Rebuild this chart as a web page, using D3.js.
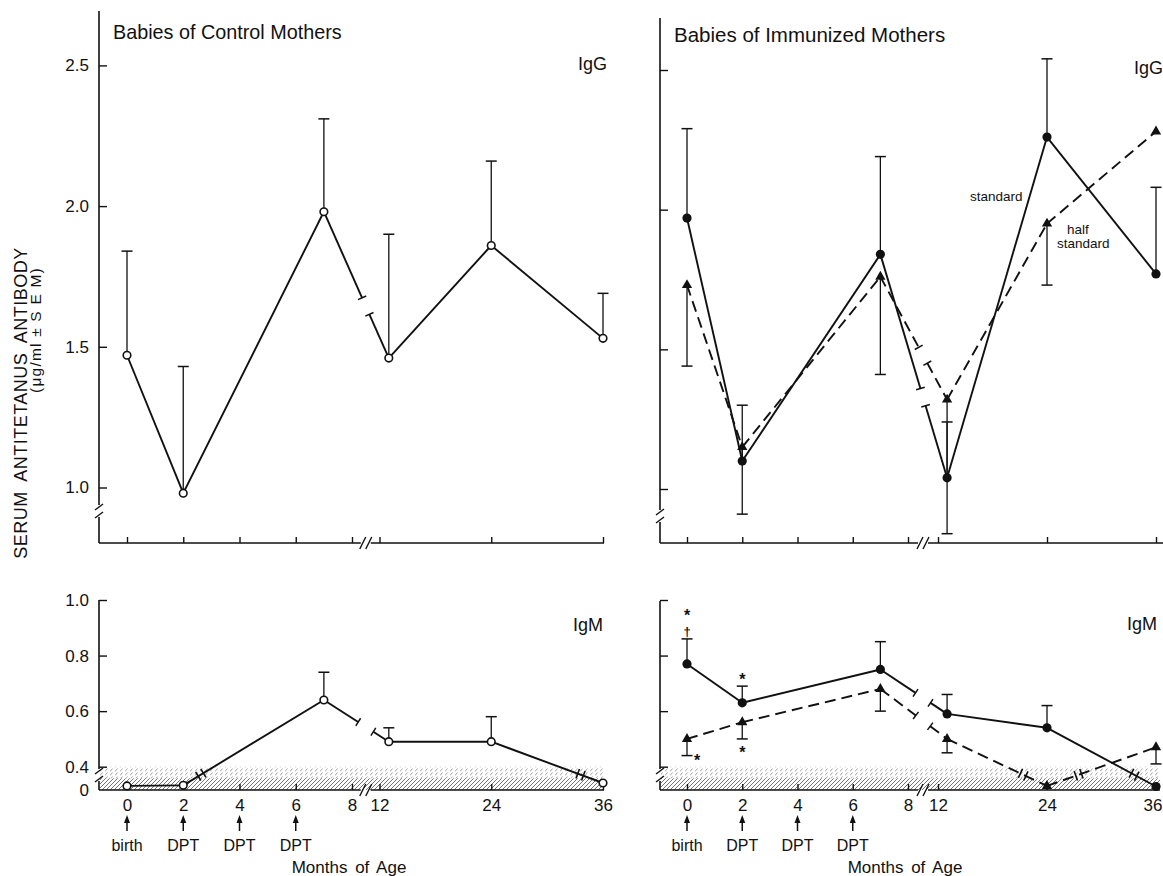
<!DOCTYPE html>
<html>
<head>
<meta charset="utf-8">
<script src="https://cdnjs.cloudflare.com/ajax/libs/d3/7.8.5/d3.min.js"></script>
<style>
  body { margin: 0; background: #fff; }
  text { font-family: "Liberation Sans", Arial, sans-serif; fill: #111; }
</style>
</head>
<body>
<svg id="chart" width="1163" height="876"></svg>
<script>
// sampling ages (months) and axis ticks
const months = [0, 2, 7, 13, 24, 36];
const axisMonths = [0, 2, 4, 6, 8, 12, 24, 36];
const shotMonths = [0, 2, 4, 6];
const shotLabels = ['birth', 'DPT', 'DPT', 'DPT'];
const igGTicks = [1.0, 1.5, 2.0, 2.5];
const igMTicks = [0.4, 0.6, 0.8, 1.0];
const igMLabels = [0, 0.4, 0.6, 0.8, 1.0];

// IgG, babies of control mothers (mean, mean + SEM)
const controlIgG = [1.47, 0.98, 1.98, 1.46, 1.86, 1.53];
const controlIgGHi = [1.84, 1.43, 2.31, 1.90, 2.16, 1.69];
// IgG, babies of immunized mothers
const stdIgG = [1.97, 1.10, 1.84, 1.04, 2.26, 1.77];
const stdIgGHi = [2.29, 1.30, 2.19, 1.24, 2.54, 2.08];
const halfIgG = [1.73, 1.15, 1.76, 1.32, 1.95, 2.28];
const halfIgGLo = [1.44, 0.91, 1.41, 0.84, 1.73, null];

// IgM, babies of control mothers
const controlIgM = [0.07, 0.08, 0.64, 0.49, 0.49, 0.12];
const controlIgMHi = [null, null, 0.74, 0.54, 0.58, null];
// IgM, babies of immunized mothers
const stdIgM = [0.77, 0.63, 0.75, 0.59, 0.54, 0.06];
const stdIgMHi = [0.86, 0.69, 0.85, 0.66, 0.62, null];
const halfIgM = [0.50, 0.56, 0.68, 0.50, 0.07, 0.47];
const halfIgMLo = [0.44, 0.50, 0.60, 0.45, null, 0.41];

// significance marks (read top to bottom)
const stdIgMMarks = [['*', '\u2020'], ['*'], [], [], [], []];
const halfIgMMarks = ['*', '*', null, null, null, null];

const ink = '#111';
const svg = d3.select('#chart');

const defs = svg.append('defs');
defs.append('pattern').attr('id', 'dots').attr('width', 5).attr('height', 4)
  .attr('patternUnits', 'userSpaceOnUse')
  .append('path').attr('d', 'M0,3.5 L2.5,0.5').attr('stroke', '#999').attr('stroke-width', 0.9);
defs.append('pattern').attr('id', 'hatch').attr('width', 4).attr('height', 4)
  .attr('patternUnits', 'userSpaceOnUse')
  .append('path').attr('d', 'M0,4 L4,0').attr('stroke', '#666').attr('stroke-width', 0.9);

const xLeft = d3.scaleLinear().domain([0, 8, 12, 36]).range([127, 352, 379.5, 603]);
const xRight = d3.scaleLinear().domain([0, 8, 12, 36]).range([687, 908, 938, 1156]);
const yTopLeft = d3.scaleLinear().domain([1.0, 2.5]).range([487.5, 65.4]);
const yTopRight = d3.scaleLinear().domain([1.0, 2.5]).range([489, 70]);
const yBottom = d3.scaleLinear().domain([0, 0.4, 1.0]).range([790, 766.7, 600]);

const W = 1163;
const line = d3.line();
const fmt = d => d === 0 ? '0' : d.toFixed(1);

function stroke(sel, w) {
  return sel.attr('stroke', ink).attr('stroke-width', w).attr('fill', 'none');
}

// axis line with a "//" break
function hAxis(g, y, x0, x1, bx) {
  stroke(g.append('path').attr('d', line([[x0, y], [bx - 5, y]])), 1.6);
  stroke(g.append('path').attr('d', line([[bx + 5, y], [x1, y]])), 1.6);
  [bx - 3, bx + 3].forEach(s =>
    stroke(g.append('path').attr('d', line([[s - 3, y + 6], [s + 3, y - 6]])), 1.4));
}
function vAxis(g, x, y0, y1, by) {
  stroke(g.append('path').attr('d', line([[x, y0], [x, by - 6]])), 1.6);
  stroke(g.append('path').attr('d', line([[x, by + 6], [x, y1]])), 1.6);
  [by - 4, by + 4].forEach(s =>
    stroke(g.append('path').attr('d', line([[x - 4, s + 3], [x + 4, s - 3]])), 1.4));
}

function yTicks(g, x0, y, ticks, labels) {
  g.append('g').attr('transform', `translate(${x0},0)`)
    .call(d3.axisRight(y).tickValues(ticks).tickSize(8).tickFormat(''))
    .call(a => a.select('.domain').remove())
    .selectAll('line').attr('stroke', ink).attr('stroke-width', 1.4);
  if (labels) {
    g.append('g').attr('transform', `translate(${x0},0)`)
      .call(d3.axisLeft(y).tickValues(labels).tickSize(0).tickPadding(10).tickFormat(fmt))
      .call(a => a.select('.domain').remove())
      .attr('font-size', 17).attr('font-family', null);
  }
}

function xTicks(g, yPos, x, withLabels) {
  g.append('g').attr('transform', `translate(0,${yPos})`)
    .call(d3.axisTop(x).tickValues(axisMonths).tickSize(6).tickFormat(''))
    .call(a => a.select('.domain').remove())
    .selectAll('line').attr('stroke', ink).attr('stroke-width', 1.4);
  if (!withLabels) return;
  g.append('g').attr('transform', `translate(0,${yPos})`)
    .call(d3.axisBottom(x).tickValues(axisMonths).tickSize(0).tickPadding(9))
    .call(a => a.select('.domain').remove())
    .attr('font-size', 17).attr('font-family', null)
    .selectAll('.tick text')
    .filter(d => x(d) + 11 > W)
    .attr('text-anchor', 'end').attr('x', d => W - 1 - x(d));
  shotMonths.forEach((m, i) => {
    const cx = x(m);
    stroke(g.append('path').attr('d', line([[cx, 831], [cx, 819]])), 1.5);
    g.append('path').attr('d', `M${cx - 3},${823} L${cx},${815} L${cx + 3},${823} Z`).attr('fill', ink);
    g.append('text').attr('x', cx).attr('y', 851).attr('text-anchor', 'middle')
      .attr('font-size', 16).text(shotLabels[i]);
  });
  g.append('text').attr('x', x(8) - 3).attr('y', 873).attr('text-anchor', 'middle')
    .attr('font-size', 17).attr('word-spacing', 3).text('Months of Age');
}

// series line: gap at the axis break, marks where it enters the band
function seriesLine(g, x, y, vals, dashed, bandTop) {
  const bx = x(10);
  for (let i = 0; i < vals.length - 1; i++) {
    const p = [x(months[i]), y(vals[i])], q = [x(months[i + 1]), y(vals[i + 1])];
    const dx = q[0] - p[0], dy = q[1] - p[1], len = Math.hypot(dx, dy);
    const ux = dx / len, uy = dy / len;
    const segs = [];
    if (months[i] < 10 && months[i + 1] > 10) {
      const t = (bx - p[0]) / dx;
      const c = [p[0] + t * dx, p[1] + t * dy];
      const a = [c[0] - ux * 9, c[1] - uy * 9], b = [c[0] + ux * 9, c[1] + uy * 9];
      segs.push([p, a], [b, q]);
      [a, b].forEach(e => stroke(g.append('path')
        .attr('d', line([[e[0] - uy * 4.5, e[1] + ux * 4.5], [e[0] + uy * 4.5, e[1] - ux * 4.5]])), 1.5));
    } else {
      segs.push([p, q]);
    }
    segs.forEach(s => stroke(g.append('path').attr('d', line(s)), 1.9)
      .attr('stroke-dasharray', dashed ? '11,6' : null));
    if (bandTop !== undefined && (vals[i] > 0.4) !== (vals[i + 1] > 0.4)) {
      const yc = bandTop + 8;
      const t = (yc - p[1]) / dy;
      const c = [p[0] + t * dx, p[1] + t * dy];
      [-3, 3].forEach(o => {
        const e = [c[0] + ux * o, c[1] + uy * o];
        stroke(g.append('path')
          .attr('d', line([[e[0] - uy * 5, e[1] + ux * 5], [e[0] + uy * 5, e[1] - ux * 5]])), 1.6);
      });
    }
  }
}

function errorBars(g, x, y, vals, ends) {
  vals.forEach((v, i) => {
    if (ends[i] == null) return;
    const cx = x(months[i]);
    stroke(g.append('path').attr('d', line([[cx, y(v)], [cx, y(ends[i])]])), 1.3);
    stroke(g.append('path').attr('d', line([[cx - 5.5, y(ends[i])], [cx + 5.5, y(ends[i])]])), 1.5);
  });
}

function markers(g, x, y, vals, kind) {
  vals.forEach((v, i) => {
    const cx = x(months[i]), cy = y(v);
    if (kind === 'open') {
      g.append('circle').attr('cx', cx).attr('cy', cy).attr('r', 3.8)
        .attr('fill', '#fff').attr('stroke', ink).attr('stroke-width', 1.6);
    } else if (kind === 'filled') {
      g.append('circle').attr('cx', cx).attr('cy', cy).attr('r', 4.6).attr('fill', ink);
    } else {
      g.append('path').attr('d', d3.symbol(d3.symbolTriangle, 46)())
        .attr('transform', `translate(${cx},${cy})`).attr('fill', ink);
    }
  });
}

function band(g, x0, x1) {
  const yt = yBottom(0.4), yb = yBottom(0);
  g.append('rect').attr('x', x0).attr('y', yt).attr('width', x1 - x0).attr('height', (yb - yt) / 2)
    .attr('fill', 'url(#dots)');
  g.append('rect').attr('x', x0).attr('y', (yt + yb) / 2).attr('width', x1 - x0).attr('height', (yb - yt) / 2)
    .attr('fill', 'url(#hatch)');
}

// ---------- top left: IgG, control mothers ----------
const tl = svg.append('g');
vAxis(tl, 99, 11, 543, 511);
hAxis(tl, 543, 99, 604, xLeft(10));
yTicks(tl, 99, yTopLeft, igGTicks, igGTicks);
xTicks(tl, 543, xLeft, false);
seriesLine(tl, xLeft, yTopLeft, controlIgG, false);
errorBars(tl, xLeft, yTopLeft, controlIgG, controlIgGHi);
markers(tl, xLeft, yTopLeft, controlIgG, 'open');
tl.append('text').attr('x', 113).attr('y', 39).attr('font-size', 19.8).text('Babies of Control Mothers');
tl.append('text').attr('x', 607).attr('y', 70).attr('text-anchor', 'end').attr('font-size', 18).text('IgG');

// ---------- top right: IgG, immunized mothers ----------
const tr = svg.append('g');
vAxis(tr, 660, 18, 543, 516);
hAxis(tr, 543, 660, 1163, xRight(10));
yTicks(tr, 660, yTopRight, igGTicks, null);
xTicks(tr, 543, xRight, false);
seriesLine(tr, xRight, yTopRight, halfIgG, true);
seriesLine(tr, xRight, yTopRight, stdIgG, false);
errorBars(tr, xRight, yTopRight, stdIgG, stdIgGHi);
errorBars(tr, xRight, yTopRight, halfIgG, halfIgGLo);
markers(tr, xRight, yTopRight, halfIgG, 'tri');
markers(tr, xRight, yTopRight, stdIgG, 'filled');
tr.append('text').attr('x', 674).attr('y', 42).attr('font-size', 20.5).text('Babies of Immunized Mothers');
tr.append('text').attr('x', 1163).attr('y', 74).attr('text-anchor', 'end').attr('font-size', 18).text('IgG');
tr.append('text').attr('x', 970).attr('y', 201).attr('font-size', 13.5).text('standard');
tr.append('text').attr('x', 1067).attr('y', 234).attr('font-size', 13.5).text('half');
tr.append('text').attr('x', 1057).attr('y', 248).attr('font-size', 13.5).text('standard');

// ---------- bottom left: IgM, control mothers ----------
const bl = svg.append('g');
band(bl, 100, 604);
vAxis(bl, 99, 600, 790, 775);
hAxis(bl, 790, 99, 604, xLeft(10));
yTicks(bl, 99, yBottom, igMTicks, igMLabels);
xTicks(bl, 790, xLeft, true);
seriesLine(bl, xLeft, yBottom, controlIgM, false, yBottom(0.4));
errorBars(bl, xLeft, yBottom, controlIgM, controlIgMHi);
markers(bl, xLeft, yBottom, controlIgM, 'open');
bl.append('text').attr('x', 603).attr('y', 631).attr('text-anchor', 'end').attr('font-size', 18).text('IgM');

// ---------- bottom right: IgM, immunized mothers ----------
const br = svg.append('g');
band(br, 661, 1160);
vAxis(br, 660, 601, 790, 775);
hAxis(br, 790, 660, 1160, xRight(10));
yTicks(br, 660, yBottom, igMTicks, null);
xTicks(br, 790, xRight, true);
seriesLine(br, xRight, yBottom, halfIgM, true, yBottom(0.4));
seriesLine(br, xRight, yBottom, stdIgM, false, yBottom(0.4));
errorBars(br, xRight, yBottom, stdIgM, stdIgMHi);
errorBars(br, xRight, yBottom, halfIgM, halfIgMLo);
markers(br, xRight, yBottom, halfIgM, 'tri');
markers(br, xRight, yBottom, stdIgM, 'filled');
br.append('text').attr('x', 1157).attr('y', 630).attr('text-anchor', 'end').attr('font-size', 18).text('IgM');

// significance marks stacked above the standard error bars (bottom mark first)
stdIgMMarks.forEach((marks, i) => {
  const cx = xRight(months[i]);
  const cap = yBottom(stdIgMHi[i]);
  let baseline = null;
  marks.slice().reverse().forEach(m => {
    baseline = baseline === null ? cap - (m === '*' ? 1 : 3) : baseline - 15;
    br.append('text').attr('x', cx).attr('y', baseline).attr('text-anchor', 'middle')
      .attr('font-weight', 'bold').attr('font-size', m === '*' ? 16 : 13).text(m);
  });
});
halfIgMMarks.forEach((m, i) => {
  if (!m) return;
  const side = i === 0;
  br.append('text').attr('x', xRight(months[i]) + (side ? 10 : 0))
    .attr('y', yBottom(halfIgMLo[i]) + (side ? 10 : 19))
    .attr('text-anchor', 'middle').attr('font-size', 16).attr('font-weight', 'bold').text(m);
});

// shared y title
const yTitle = svg.append('g');
yTitle.append('text').attr('transform', 'translate(27,403) rotate(-90)')
  .attr('text-anchor', 'middle').attr('font-size', 18).attr('letter-spacing', 0.5)
  .attr('word-spacing', 5).text('SERUM ANTITETANUS ANTIBODY');
yTitle.append('text').attr('transform', 'translate(41,330) rotate(-90)')
  .attr('text-anchor', 'middle').attr('font-size', 15.5).attr('letter-spacing', 1.2)
  .text('(\u03bcg/ml \u00b1 S E M)');
</script>
</body>
</html>
